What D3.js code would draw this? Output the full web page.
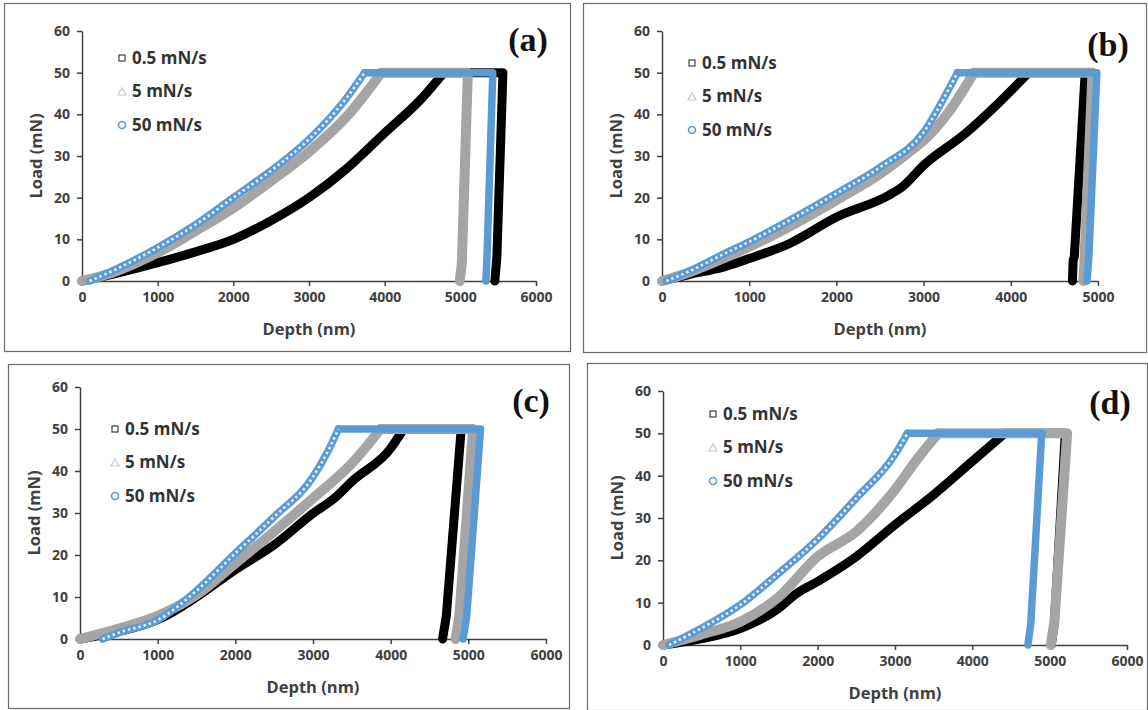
<!DOCTYPE html>
<html>
<head>
<meta charset="utf-8">
<script src="https://cdn.jsdelivr.net/npm/d3@7"></script>
<style>
  body { margin: 0; background: #fff; }
  svg { display: block; }
  .tick text { font-family: "Open Sans", Lato, sans-serif; font-weight: bold; font-size: 14px; fill: #404040; }
  .tick line, .domain { stroke: #404040; stroke-width: 1.5; }
</style>
</head>
<body>
<svg id="chart" width="1148" height="710"></svg>
<script>
// loading rates (legend) and panel names
const rates = ["0.5 mN/s", "5 mN/s", "50 mN/s"];
const panelNames = ["(a)", "(b)", "(c)", "(d)"];
const loadTicks = [0, 10, 20, 30, 40, 50, 60];
const depthMax = [6000, 5000, 6000, 6000];

// depth (nm), load (mN)
const a_slow = [[0,0],[400,1.6],[1000,4.4],[1500,7],[2000,10],[2500,14.5],[3000,20],[3500,27],[4000,35.5],[4500,44],[4782,50],[5563,50],[5483,5.8],[5456,0]];
const a_mid  = [[0,0],[400,2],[1000,6.8],[1500,12],[2000,17.5],[2500,24],[3000,31],[3500,39.5],[3955,50],[5099,50],[5020,4.3],[4993,0]];
const a_fast = [[100,0],[400,2.4],[1000,8],[1500,13.5],[2000,20],[2500,26.5],[3000,34],[3500,44],[3735,50],[5429,50],[5350,4.5],[5337,0]];

const b_slow = [[0,0],[300,1.5],[711,3.4],[1000,5.4],[1464,9],[2008,15.4],[2594,20.5],[2750,22.5],[3012,28],[3473,35.3],[3849,42.5],[4205,50],[4853,50],[4728,5.8],[4715,5],[4707,0]];
const b_mid  = [[0,0],[300,2],[711,5.5],[1000,8.2],[1500,13.5],[2000,19.4],[2500,25.7],[2900,32],[3000,33.7],[3300,40.9],[3577,50],[4937,50],[4845,5],[4833,0]];
const b_fast = [[50,0],[300,2.2],[711,6.5],[1000,9.4],[1500,15],[2000,21],[2500,27.3],[3000,35.7],[3300,46.5],[3389,50],[4987,50],[4895,5.8],[4874,0]];

const c_slow = [[0,0],[500,1.8],[1000,4.6],[1200,6.5],[1500,10],[2000,16.5],[2500,22.4],[3000,29.9],[3300,33.9],[3500,37.5],[4000,45.4],[4166,50],[4908,50],[4716,5.4],[4668,0]];
const c_mid  = [[0,0],[500,2.5],[1000,5.5],[1500,10.5],[2000,18],[2500,25.6],[3000,33.5],[3500,41.8],[3870,50],[5061,50],[4884,5.4],[4836,0]];
const c_fast = [[290,0],[500,1.5],[1000,4.5],[1500,11.5],[2000,20.4],[2500,29.1],[3000,38.6],[3200,45],[3328,50],[5157,50],[4979,5.4],[4932,0]];

const d_slow = [[0,0],[500,1.5],[1000,3.9],[1500,8.7],[1700,11.8],[2000,15],[2500,20.9],[3000,28.4],[3500,35.5],[4000,43.4],[4420,50],[5202,50],[5060,5],[5020,0]];
const d_mid  = [[0,0],[500,2.5],[1000,5.5],[1500,11.4],[2000,20.9],[2500,26.8],[3000,36.7],[3300,44.2],[3559,50],[5226,50],[5061,5.5],[5014,0]];
const d_fast = [[80,0],[500,4],[1000,9.5],[1500,17],[2000,25],[2500,34.7],[3000,45],[3160,50],[4897,50],[4756,5.1],[4718,0]];

const seriesByPanel = [
    [a_slow, a_mid, a_fast],
    [b_slow, b_mid, b_fast],
    [c_slow, c_mid, c_fast],
    [d_slow, d_mid, d_fast]
];

// layout: frame box and plot area of each panel (pixels)
const frames = [[4,3,566,348],[583,3,563,349],[8,364,561,344],[587,363,560,347]];
const plots = [
    {x0: 82, x1: 536, y0: 281, y1: 31},
    {x0: 662, x1: 1098, y0: 281, y1: 31},
    {x0: 80, x1: 546, y0: 639, y1: 387},
    {x0: 663, x1: 1127, y0: 645, y1: 391}
];
const legendPos = [[122, 58], [692, 63], [115, 429], [713, 414]];
const namePos = [[528, 51], [1108, 56], [531, 412], [1110, 414]];

const colors = ["#000000", "#a5a5a5", "#5b9bd5"];
const bandWidth = [9, 10, 7.5];
const font = "'Open Sans', Lato, sans-serif";

const svg = d3.select("#chart");

for (let p = 0; p < 4; p++) {
    const f = frames[p];
    const pl = plots[p];
    const g = svg.append("g");

    g.append("rect")
        .attr("x", f[0] + 0.5).attr("y", f[1] + 0.5)
        .attr("width", f[2]).attr("height", f[3])
        .attr("fill", "#fff")
        .attr("stroke", "#6b6b6b")
        .attr("stroke-width", 1.2);

    const x = d3.scaleLinear().domain([0, depthMax[p]]).range([pl.x0, pl.x1]);
    const y = d3.scaleLinear().domain([0, 60]).range([pl.y0, pl.y1]);

    const xTicks = d3.range(0, depthMax[p] + 1, 1000);

    g.append("g")
        .attr("transform", `translate(0,${pl.y0})`)
        .call(d3.axisBottom(x).tickValues(xTicks).tickFormat(d3.format("d")).tickSize(5).tickSizeOuter(0).tickPadding(6));

    g.append("g")
        .attr("transform", `translate(${pl.x0},0)`)
        .call(d3.axisLeft(y).tickValues(loadTicks).tickSize(5).tickSizeOuter(0).tickPadding(7));

    // loading branch smooth, hold + unloading straight
    const smooth = d3.line().x(d => x(d[0])).y(d => y(d[1])).curve(d3.curveMonotoneX);
    const straight = d3.line().x(d => x(d[0])).y(d => y(d[1]));

    const plotG = g.append("g");
    seriesByPanel[p].forEach((s, i) => {
        const top = s.findIndex(d => d[1] >= 50);
        const loading = s.slice(0, top + 1);
        const rest = s.slice(top);
        [smooth(loading), straight(rest)].forEach(dPath => {
            plotG.append("path")
                .attr("d", dPath)
                .attr("fill", "none")
                .attr("stroke", colors[i])
                .attr("stroke-width", bandWidth[i])
                .attr("stroke-linejoin", "round")
                .attr("stroke-linecap", "round");
        });

        if (i === 2) {
            // hollow circle markers show through on the loading part
            plotG.append("path")
                .attr("d", smooth(loading))
                .attr("fill", "none")
                .attr("stroke", "#eaf2fb")
                .attr("stroke-width", 2.6)
                .attr("stroke-dasharray", "2.4,3");
        }
    });

    // axis titles
    g.append("text")
        .attr("x", (pl.x0 + pl.x1) / 2)
        .attr("y", pl.y0 + 54)
        .attr("text-anchor", "middle")
        .style("font-family", font)
        .style("font-weight", "bold")
        .style("font-size", "16.5px")
        .style("fill", "#404040")
        .text("Depth (nm)");

    g.append("text")
        .attr("transform", `translate(${pl.x0 - 40},${(pl.y0 + pl.y1) / 2}) rotate(-90)`)
        .attr("text-anchor", "middle")
        .style("font-family", font)
        .style("font-weight", "bold")
        .style("font-size", "16.5px")
        .style("fill", "#404040")
        .text("Load (mN)");

    // legend
    const lg = g.append("g").attr("transform", `translate(${legendPos[p][0]},${legendPos[p][1]})`);
    rates.forEach((r, i) => {
        const row = lg.append("g").attr("transform", `translate(0,${i * 33.5})`);
        if (i === 0) {
            row.append("rect").attr("x", -3).attr("y", -3).attr("width", 6).attr("height", 6)
                .attr("fill", "#fff").attr("stroke", "#404040").attr("stroke-width", 1.2);
        } else if (i === 1) {
            row.append("path").attr("d", "M-4,3.5L0,-3.5L4,3.5Z")
                .attr("fill", "#fff").attr("stroke", "#c8c8c8").attr("stroke-width", 1.2);
        } else {
            row.append("circle").attr("r", 3.5)
                .attr("fill", "#fff").attr("stroke", colors[2]).attr("stroke-width", 1.6);
        }
        row.append("text")
            .attr("x", 10)
            .attr("dy", "0.35em")
            .style("font-family", font)
            .style("font-weight", "bold")
            .style("font-size", "17px")
            .style("fill", "#333")
            .text(r);
    });

    // panel name
    g.append("text")
        .attr("x", namePos[p][0])
        .attr("y", namePos[p][1])
        .attr("text-anchor", "middle")
        .style("font-family", "'Liberation Serif', 'Times New Roman', serif")
        .style("font-weight", "bold")
        .style("font-size", "34px")
        .style("fill", "#111")
        .text(panelNames[p]);
}
</script>
</body>
</html>
